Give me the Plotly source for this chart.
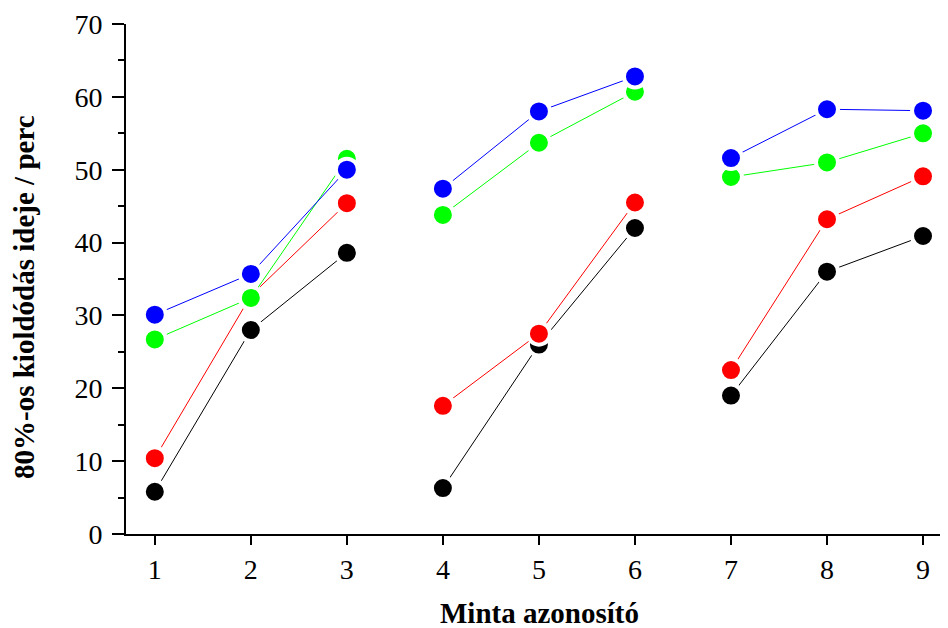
import plotly.graph_objects as go

samples = [1, 2, 3, 4, 5, 6, 7, 8, 9]
groups = [[1, 2, 3], [4, 5, 6], [7, 8, 9]]

black = [5.8, 28.0, 38.6, 6.3, 26.0, 42.0, 19.0, 36.0, 40.9]
red = [10.4, 32.7, 45.4, 17.6, 27.5, 45.5, 22.5, 43.2, 49.1]
green = [26.7, 32.4, 51.5, 43.8, 53.7, 60.7, 49.0, 51.0, 55.0]
blue = [30.1, 35.7, 50.0, 47.4, 58.0, 62.8, 51.6, 58.3, 58.1]

series = [("black", black, "#000000"), ("red", red, "#ff0000"),
          ("green", green, "#00ff00"), ("blue", blue, "#0000ff")]


def split(vals):
    # break the line between sample groups
    xs, ys = [], []
    for g in groups:
        for s in g:
            xs.append(s)
            ys.append(vals[samples.index(s)])
        xs.append(None)
        ys.append(None)
    return xs[:-1], ys[:-1]


fig = go.Figure()
for name, vals, col in series:
    xs, ys = split(vals)
    fig.add_trace(go.Scatter(x=xs, y=ys, mode="lines+markers", name=name,
                             connectgaps=False, line=dict(color=col, width=1),
                             marker=dict(color=col, size=22,
                                         line=dict(color="white", width=4))))

font = dict(family="Liberation Serif, Times New Roman, serif", size=28, color="black")

# page body has an 8px margin, so the figure is a bit smaller than the window
fig.update_layout(
    width=940, height=620, showlegend=False,
    plot_bgcolor="white", paper_bgcolor="white",
    margin=dict(l=118, r=0, t=16, b=94),
    font=font,
    xaxis=dict(range=[0.7, 9.26], tickmode="array", tickvals=samples,
               showline=True, linecolor="black", linewidth=2,
               ticks="outside", ticklen=9, tickwidth=2, tickcolor="black",
               showgrid=False, zeroline=False, automargin=False),
    yaxis=dict(range=[0, 70], dtick=10, showline=True, linecolor="black", linewidth=2,
               ticks="outside", ticklen=12, tickwidth=2, tickcolor="black",
               minor=dict(ticks="outside", ticklen=6, dtick=5, tickcolor="black", tickwidth=2),
               ticklabelstandoff=4,
               showgrid=False, zeroline=False, automargin=False),
    annotations=[
        dict(text="<b>Minta azonosító</b>", xref="paper", yref="paper",
             x=0.5036, y=-0.155, xanchor="center", yanchor="middle",
             showarrow=False, font=dict(size=29)),
        dict(text="<b>80%-os kioldódás ideje / perc</b>", xref="paper", yref="paper",
             x=-0.1235, y=0.4657, xanchor="center", yanchor="middle", textangle=-90,
             showarrow=False, font=dict(size=29)),
    ],
)

fig.write_html("out.html")
